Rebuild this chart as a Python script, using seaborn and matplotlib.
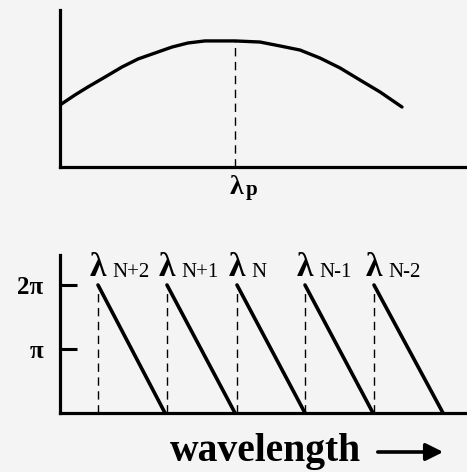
import numpy as np
import pandas as pd
import matplotlib
matplotlib.use("Agg")
import matplotlib.pyplot as plt
import seaborn as sns

# Blaze efficiency envelope (arbitrary wavelength units, relative efficiency)
envelope_wl = [0, 15, 28, 45, 62, 78, 95, 112, 128, 145, 175,
               200, 220, 240, 260, 280, 300, 320, 342]
envelope_eff = [0.395, 0.459, 0.510, 0.573, 0.637, 0.688, 0.726, 0.764, 0.790,
                0.803, 0.803, 0.796, 0.771, 0.745, 0.694, 0.631, 0.554, 0.478,
                0.382]
peak_wl = 175

# Diffraction orders: phase falls from 2π to 0 across each order
order_labels = ["N+2", "N+1", "N", "N-1", "N-2"]
order_start = [38, 107, 177, 245, 314]
order_end = [105, 175, 245, 313, 383]
phase_max = 2 * np.pi

sns.set_theme(style="white")
plt.rcParams["font.family"] = ["Liberation Serif", "DejaVu Serif"]
plt.rcParams["font.weight"] = "bold"
plt.rcParams["text.color"] = "black"
plt.rcParams["ytick.color"] = "black"
plt.rcParams["ytick.labelcolor"] = "black"

BG = "#f4f4f4"
fig = plt.figure(figsize=(4.67, 4.72), dpi=100, facecolor=BG)

W, H = 467.0, 472.0
ax_top = fig.add_axes([60 / W, (H - 167) / H, (W - 60) / W, (167 - 10) / H])
ax_bot = fig.add_axes([60 / W, (H - 413) / H, (W - 60) / W, (413 - 255) / H])

for ax in (ax_top, ax_bot):
    ax.set_facecolor(BG)
    for side in ("top", "right"):
        ax.spines[side].set_visible(False)
    for side in ("left", "bottom"):
        ax.spines[side].set_linewidth(2.3)
        ax.spines[side].set_color("black")
    ax.set_xlim(0, W - 60)
    ax.set_xticks([])

# --- upper panel: efficiency envelope ---
env = pd.DataFrame({"wl": envelope_wl, "eff": envelope_eff})
sns.lineplot(data=env, x="wl", y="eff", ax=ax_top, color="black", lw=2.4,
             sort=True, estimator=None)
peak_eff = np.interp(peak_wl, envelope_wl, envelope_eff)
ax_top.vlines(peak_wl, 0, peak_eff, colors="black", lw=1.0,
              linestyles=(0, (6, 4)))
ax_top.set_ylim(0, 1.0)
ax_top.set_yticks([])
ax_top.set_xlabel("")
ax_top.set_ylabel("")
ax_top.text(peak_wl + 1, -0.13, "λ", transform=ax_top.get_xaxis_transform(),
            ha="center", va="center", fontsize=20, fontweight="bold")
ax_top.text(peak_wl + 11, -0.145, "p", transform=ax_top.get_xaxis_transform(),
            ha="left", va="center", fontsize=15, fontweight="bold")

# --- lower panel: phase sawtooth per order ---
rows = []
for lab, s, e in zip(order_labels, order_start, order_end):
    rows.append({"order": lab, "wl": s, "phase": phase_max})
    rows.append({"order": lab, "wl": e, "phase": 0.0})
saw = pd.DataFrame(rows)
sns.lineplot(data=saw, x="wl", y="phase", units="order", estimator=None,
             ax=ax_bot, color="black", lw=2.6, sort=False)
ax_bot.vlines(order_start, 0, phase_max * 0.95, colors="black", lw=1.0,
              linestyles=(0, (6, 4)))
ax_bot.set_ylim(0, phase_max * 158 / 128)
ax_bot.set_yticks([np.pi, phase_max])
ax_bot.set_yticklabels(["π", "2π"])
ax_bot.tick_params(axis="y", direction="in", length=12, width=2.2,
                   pad=12, labelsize=18, color="black", labelcolor="black",
                   left=True)
for t in ax_bot.get_yticklabels():
    t.set_fontweight("bold")
ax_bot.set_xlabel("")
ax_bot.set_ylabel("")

for lab, s in zip(order_labels, order_start):
    ax_bot.text(s, phase_max * 1.14, "λ", ha="center", va="center",
                fontsize=24, fontweight="bold")
    ax_bot.text(s + 14, phase_max * 1.095, lab, ha="left", va="center",
                fontsize=15, fontweight="normal")

# axis title with arrow
fig.text(170 / W, 1 - 451 / H, "wavelength", ha="left", va="center",
         fontsize=28.5, fontweight="bold", color="black")
fig.add_artist(matplotlib.patches.FancyArrowPatch(
    (375 / W, 1 - 452 / H), (446 / W, 1 - 452 / H),
    transform=fig.transFigure, arrowstyle="-|>", mutation_scale=26,
    lw=2.6, color="black"))

fig.savefig("out.png", dpi=100, facecolor=BG)
